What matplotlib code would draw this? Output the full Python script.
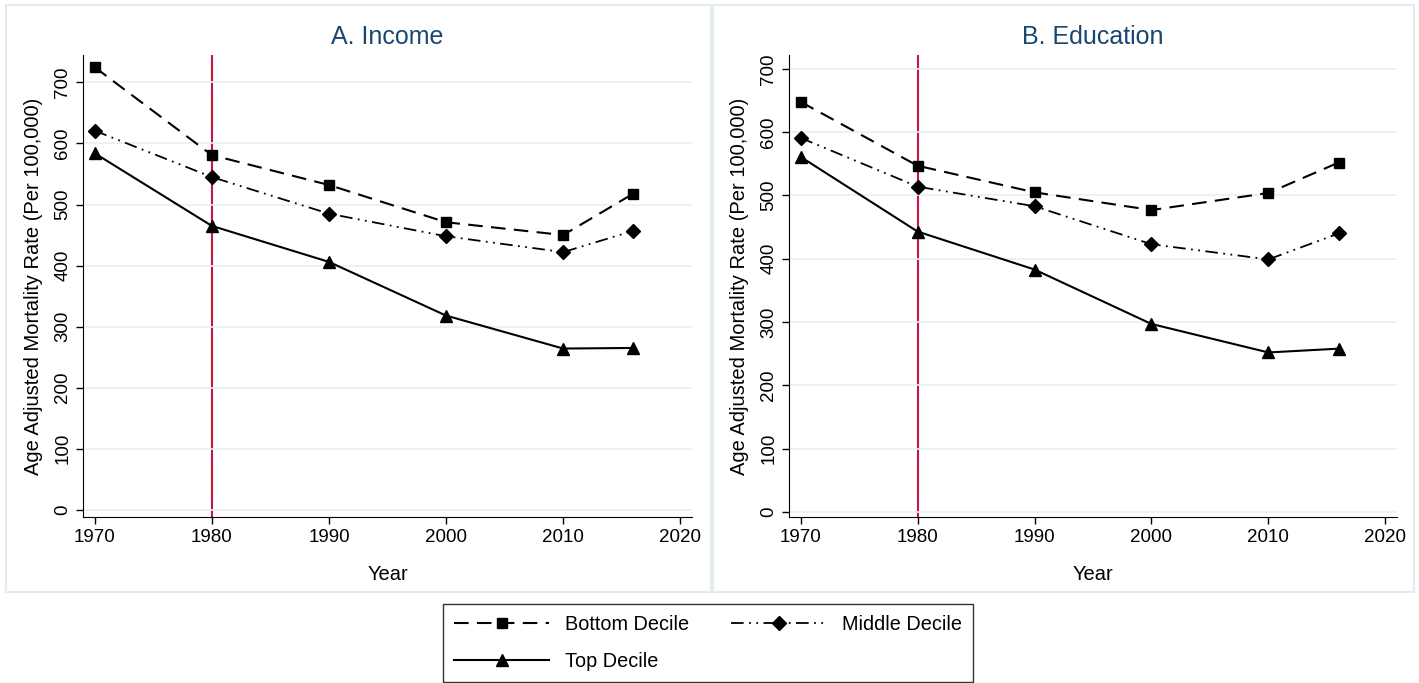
import matplotlib
matplotlib.use("Agg")
import matplotlib.pyplot as plt
from matplotlib.patches import Rectangle

plt.rcParams['font.family'] = ['Liberation Sans', 'DejaVu Sans']

years = [1970, 1980, 1990, 2000, 2010, 2016]

# A. Income
inc_bottom = [725, 581, 532, 471, 450, 518]
inc_middle = [621, 545, 485, 448, 422, 457]
inc_top = [584, 465, 406, 318, 264, 265]

# B. Education
edu_bottom = [648, 547, 505, 477, 504, 552]
edu_middle = [591, 514, 483, 423, 399, 440]
edu_top = [561, 443, 383, 297, 252, 258]

W, H = 1419, 683
fig = plt.figure(figsize=(W / 100, H / 100), dpi=100)

# panel frames
for x0, x1 in [(6, 711), (713, 1414)]:
    fig.patches.append(Rectangle((x0 / W, 1 - 592 / H), (x1 - x0) / W, (592 - 5) / H,
                                 transform=fig.transFigure, fill=False,
                                 edgecolor='#e4ecf0', linewidth=1.5))

navy = '#1a476f'
red = '#c8163f'
grid_c = '#e8f0f3'


def panel(rect, title, bottom, middle, top, ylim):
    ax = fig.add_axes(rect)
    ax.axvline(1980, color=red, lw=1.5, zorder=1)
    l1, = ax.plot(years, bottom, color='black', ls=(0, (7, 4)), lw=1.5,
                  marker='s', ms=7.5, label='Bottom Decile', zorder=3)
    l2, = ax.plot(years, middle, color='black', ls=(0, (7, 3, 1, 3, 1, 3)), lw=1.3,
                  marker='D', ms=7.5, label='Middle Decile', zorder=3)
    l3, = ax.plot(years, top, color='black', ls='-', lw=1.5,
                  marker='^', ms=8.5, label='Top Decile', zorder=3)
    ax.set_xlim(1969, 2021)
    ax.set_ylim(*ylim)
    ax.set_xticks([1970, 1980, 1990, 2000, 2010, 2020])
    ax.set_yticks(range(0, 701, 100))
    for lab in ax.get_yticklabels():
        lab.set_rotation(90)
        lab.set_va('center')
    ax.tick_params(labelsize=13.5, length=5, width=1, direction='out')
    ax.grid(axis='y', color=grid_c, lw=1.2, zorder=0)
    ax.spines['top'].set_visible(False)
    ax.spines['right'].set_visible(False)
    ax.set_title(title, fontsize=18, color=navy, pad=8)
    ax.set_xlabel('Year', fontsize=14.5, labelpad=14)
    ax.set_ylabel('Age Adjusted Mortality Rate (Per 100,000)', fontsize=14.5, labelpad=8)
    return [l1, l3, l2]


handles = panel([83 / W, 1 - 517 / H, (692 - 83) / W, (517 - 55) / H],
                'A. Income', inc_bottom, inc_middle, inc_top, (-12, 745))
panel([789 / W, 1 - 517 / H, (1397 - 789) / W, (517 - 55) / H],
      'B. Education', edu_bottom, edu_middle, edu_top, (-8, 722))

leg = fig.legend(handles=handles, ncol=2, loc='center',
                 bbox_to_anchor=(708 / W, 1 - 643 / H), fontsize=14.3,
                 handlelength=4.8, handletextpad=0.8, columnspacing=2.1,
                 frameon=True, fancybox=False,
                 edgecolor='black', borderpad=0.55, labelspacing=0.9)
leg.get_frame().set_linewidth(1.0)

fig.savefig('out.png', dpi=100)
